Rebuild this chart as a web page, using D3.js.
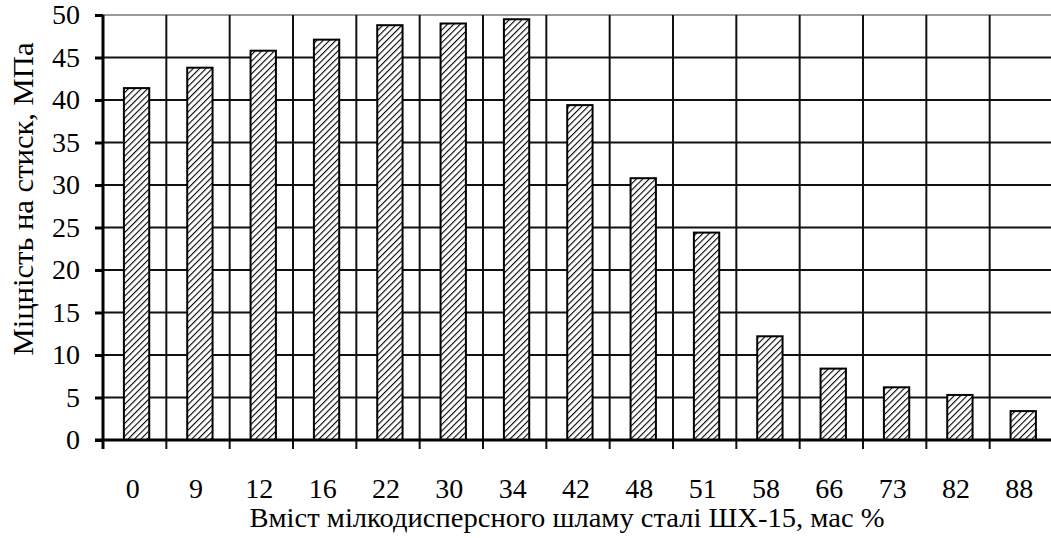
<!DOCTYPE html>
<html>
<head>
<meta charset="utf-8">
<script src="https://cdn.jsdelivr.net/npm/d3@7"></script>
<style>
  body { margin: 0; background: #fff; }
  text { font-family: "Liberation Serif", "Times New Roman", serif; fill: #000; }
</style>
</head>
<body>
<div id="container"></div>
<script>
/* DATA */
const categories = ["0", "9", "12", "16", "22", "30", "34", "42", "48", "51", "58", "66", "73", "82", "88"];
const strength = [41.4, 43.8, 45.8, 47.1, 48.8, 49.0, 49.5, 39.4, 30.8, 24.4, 12.2, 8.4, 6.2, 5.3, 3.4];
const yTicks = [0, 5, 10, 15, 20, 25, 30, 35, 40, 45, 50];
const xTitle = "Вміст мілкодисперсного шламу сталі ШХ-15, мас %";
const yTitle = "Міцність на стиск, МПа";

/* CONSTANTS */
const width = 1051, height = 538,
  margin = {top: 15, left: 103, bottom: 98, right: -2};

const svg = d3.select("#container")
  .append("svg")
  .attr("width", width)
  .attr("height", height);

// hatch pattern
const hs = 4.5;
svg.append("defs")
  .append("pattern")
  .attr("id", "hatch")
  .attr("patternUnits", "userSpaceOnUse")
  .attr("width", hs)
  .attr("height", hs)
  .attr("patternTransform", "rotate(45)")
  .call(p => p.append("rect").attr("width", hs).attr("height", hs).attr("fill", "#fff"))
  .append("line")
  .attr("x1", 0).attr("y1", 0)
  .attr("x2", 0).attr("y2", hs)
  .attr("stroke", "#000")
  .attr("stroke-width", 2.2);

// SCALES
const xScale = d3.scaleBand()
  .domain(categories)
  .range([margin.left, width - margin.right])
  .paddingInner(0)
  .paddingOuter(0);

const yScale = d3.scaleLinear()
  .domain([0, 50])
  .range([height - margin.bottom, margin.top]);

// gridlines
svg.append("g")
  .selectAll("line")
  .data(yTicks.filter(d => d > 0))
  .join("line")
  .attr("x1", margin.left)
  .attr("x2", width)
  .attr("y1", d => yScale(d))
  .attr("y2", d => yScale(d))
  .attr("stroke", d => d === 50 ? "#999" : "#111")
  .attr("stroke-width", 2);

svg.append("g")
  .selectAll("line")
  .data(categories.slice(1))
  .join("line")
  .attr("x1", d => xScale(d))
  .attr("x2", d => xScale(d))
  .attr("y1", margin.top)
  .attr("y2", height - margin.bottom + 9)
  .attr("stroke", "#111")
  .attr("stroke-width", 2);

// BARS
const barW = xScale.bandwidth() * 0.4;
svg.append("g")
  .selectAll("rect")
  .data(strength)
  .join("rect")
  .attr("x", (d, i) => xScale(categories[i]) + xScale.bandwidth() * 0.33)
  .attr("y", d => yScale(d))
  .attr("width", barW)
  .attr("height", d => yScale(0) - yScale(d))
  .attr("fill", "url(#hatch)")
  .attr("stroke", "#000")
  .attr("stroke-width", 2);

// AXES
const yAxis = d3.axisLeft(yScale).tickValues(yTicks).tickSize(8).tickPadding(15);
svg.append("g")
  .attr("transform", `translate(${margin.left},0)`)
  .call(yAxis)
  .call(g => g.select(".domain").attr("stroke-width", 3).attr("d", `M0,${margin.top}V${height - margin.bottom}`))
  .call(g => g.selectAll(".tick line").attr("stroke-width", 3))
  .call(g => g.selectAll(".tick text").attr("font-size", 28).attr("font-family", "Liberation Serif"));

const xAxis = d3.axisBottom(xScale).tickSize(0).tickPadding(38);
svg.append("g")
  .attr("transform", `translate(0,${height - margin.bottom})`)
  .call(xAxis)
  .call(g => g.select(".domain").attr("stroke-width", 3).attr("d", `M${margin.left - 8},0H${width}`))
  .call(g => g.selectAll(".tick text").attr("font-size", 28).attr("font-family", "Liberation Serif").attr("dx", -2));

// left axis bottom tick below zero
svg.append("line")
  .attr("x1", margin.left).attr("x2", margin.left)
  .attr("y1", height - margin.bottom).attr("y2", height - margin.bottom + 9)
  .attr("stroke", "#000").attr("stroke-width", 3);

// TITLES
svg.append("text")
  .attr("x", 567)
  .attr("y", 527)
  .attr("text-anchor", "middle")
  .attr("font-size", 28)
  .attr("textLength", 635)
  .attr("lengthAdjust", "spacingAndGlyphs")
  .text(xTitle);

svg.append("text")
  .attr("transform", `translate(33,199) rotate(-90)`)
  .attr("text-anchor", "middle")
  .attr("font-size", 29)
  .attr("textLength", 313)
  .attr("lengthAdjust", "spacingAndGlyphs")
  .text(yTitle);
</script>
</body>
</html>
